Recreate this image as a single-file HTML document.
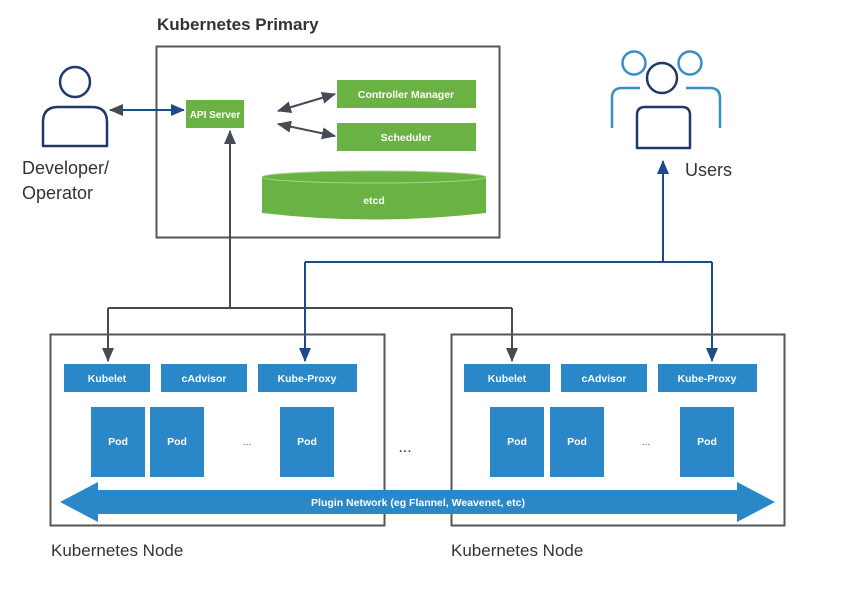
<!DOCTYPE html>
<html><head><style>
body{margin:0;background:#fff;}
svg text{font-family:"Liberation Sans",sans-serif;}
</style></head><body>
<svg width="845" height="598" viewBox="0 0 845 598" xmlns="http://www.w3.org/2000/svg">
<defs>
<marker id="agl" markerWidth="14" markerHeight="12" refX="13" refY="6" orient="auto-start-reverse" markerUnits="userSpaceOnUse"><path d="M0,0 L14,6 L0,12 Z" fill="#444b55"/></marker>
<marker id="abl" markerWidth="14" markerHeight="12" refX="13" refY="6" orient="auto-start-reverse" markerUnits="userSpaceOnUse"><path d="M0,0 L14,6 L0,12 Z" fill="#1f4a8a"/></marker>
</defs>
<text x="157" y="30" font-size="17" fill="#333" font-weight="bold">Kubernetes Primary</text>
<rect x="156.5" y="46.5" width="343" height="191" fill="none" stroke="#555" stroke-width="2"/>
<circle cx="75" cy="82" r="15" fill="none" stroke="#1f3a68" stroke-width="2.5"/>
<path d="M43,146 V122 Q43,107 58,107 H92 Q107,107 107,122 V146 Z" fill="none" stroke="#1f3a68" stroke-width="2.5" stroke-linejoin="round"/>
<text x="22" y="174" font-size="18" fill="#333">Developer/</text>
<text x="22" y="199" font-size="18" fill="#333">Operator</text>
<line x1="110" y1="110" x2="184" y2="110" stroke="#1f4a8a" stroke-width="2" marker-start="url(#agl)" marker-end="url(#abl)"/>
<rect x="186" y="100" width="58" height="28" fill="#6bb244"/>
<text x="215" y="118" font-size="10" fill="#fff" text-anchor="middle" font-weight="bold">API Server</text>
<rect x="337" y="80" width="139" height="28" fill="#6bb244"/>
<text x="406" y="98" font-size="10.5" fill="#fff" text-anchor="middle" font-weight="bold">Controller Manager</text>
<rect x="337" y="123" width="139" height="28" fill="#6bb244"/>
<text x="406" y="141" font-size="10.5" fill="#fff" text-anchor="middle" font-weight="bold">Scheduler</text>
<line x1="278" y1="111" x2="335" y2="94" stroke="#444b55" stroke-width="2" marker-start="url(#agl)" marker-end="url(#agl)"/>
<line x1="278" y1="124" x2="335" y2="136" stroke="#444b55" stroke-width="2" marker-start="url(#agl)" marker-end="url(#agl)"/>
<path d="M262,177 V213 Q374,226 486,213 V177 Z" fill="#6bb244"/>
<ellipse cx="374" cy="177" rx="112" ry="6" fill="#6bb244" stroke="#a8d48e" stroke-width="1"/>
<text x="374" y="204" font-size="10.5" fill="#fff" text-anchor="middle" font-weight="bold">etcd</text>
<circle cx="634" cy="63" r="11.5" fill="none" stroke="#3a8fc0" stroke-width="2.5"/>
<circle cx="690" cy="63" r="11.5" fill="none" stroke="#3a8fc0" stroke-width="2.5"/>
<path d="M612,128 V98 Q612,88 622,88 H640" fill="none" stroke="#3a8fc0" stroke-width="2.5"/>
<path d="M720,128 V98 Q720,88 710,88 H686" fill="none" stroke="#3a8fc0" stroke-width="2.5"/>
<circle cx="662" cy="78" r="15" fill="#fff" stroke="#1f3a68" stroke-width="2.5"/>
<path d="M637,148 V115 Q637,107 645,107 H682 Q690,107 690,115 V148 Z" fill="#fff" stroke="#1f3a68" stroke-width="2.5" stroke-linejoin="round"/>
<text x="685" y="176" font-size="18" fill="#333">Users</text>
<line x1="230" y1="308" x2="230" y2="131" stroke="#444b55" stroke-width="2" marker-end="url(#agl)"/>
<path d="M108,308 H512" fill="none" stroke="#444b55" stroke-width="2"/>
<line x1="108" y1="308" x2="108" y2="361" stroke="#444b55" stroke-width="2" marker-end="url(#agl)"/>
<line x1="512" y1="308" x2="512" y2="361" stroke="#444b55" stroke-width="2" marker-end="url(#agl)"/>
<line x1="663" y1="262" x2="663" y2="161" stroke="#1f4a8a" stroke-width="2" marker-end="url(#abl)"/>
<path d="M305,262 H712" fill="none" stroke="#1f4a8a" stroke-width="2"/>
<line x1="305" y1="262" x2="305" y2="361" stroke="#1f4a8a" stroke-width="2" marker-end="url(#abl)"/>
<line x1="712" y1="262" x2="712" y2="361" stroke="#1f4a8a" stroke-width="2" marker-end="url(#abl)"/>
<rect x="50.5" y="334.5" width="334" height="191" fill="none" stroke="#555" stroke-width="2"/>
<rect x="451.5" y="334.5" width="333" height="191" fill="none" stroke="#555" stroke-width="2"/>
<g fill="#2a88c8">
<rect x="64" y="364" width="86" height="28"/><rect x="161" y="364" width="86" height="28"/><rect x="258" y="364" width="99" height="28"/>
<rect x="91" y="407" width="54" height="70"/><rect x="150" y="407" width="54" height="70"/><rect x="280" y="407" width="54" height="70"/>
<rect x="464" y="364" width="86" height="28"/><rect x="561" y="364" width="86" height="28"/><rect x="658" y="364" width="99" height="28"/>
<rect x="490" y="407" width="54" height="70"/><rect x="550" y="407" width="54" height="70"/><rect x="680" y="407" width="54" height="70"/>
</g>
<g font-size="10.5" fill="#fff" text-anchor="middle" font-weight="bold">
<text x="107" y="382">Kubelet</text><text x="204" y="382">cAdvisor</text><text x="307" y="382">Kube-Proxy</text>
<text x="118" y="445">Pod</text><text x="177" y="445">Pod</text><text x="307" y="445">Pod</text>
<text x="507" y="382">Kubelet</text><text x="604" y="382">cAdvisor</text><text x="707" y="382">Kube-Proxy</text>
<text x="517" y="445">Pod</text><text x="577" y="445">Pod</text><text x="707" y="445">Pod</text>
</g>
<text x="247" y="445" font-size="10" fill="#555" text-anchor="middle">...</text>
<text x="646" y="445" font-size="10" fill="#555" text-anchor="middle">...</text>
<text x="405" y="452" font-size="16" fill="#333" text-anchor="middle">...</text>
<path d="M60,502 L98,482 V490 H737 V482 L775,502 L737,522 V514 H98 V522 Z" fill="#2a88c8"/>
<text x="418" y="506" font-size="10.5" fill="#fff" text-anchor="middle" font-weight="bold">Plugin Network (eg Flannel, Weavenet, etc)</text>
<text x="51" y="556" font-size="17" fill="#333">Kubernetes Node</text>
<text x="451" y="556" font-size="17" fill="#333">Kubernetes Node</text>
</svg>
</body></html>
